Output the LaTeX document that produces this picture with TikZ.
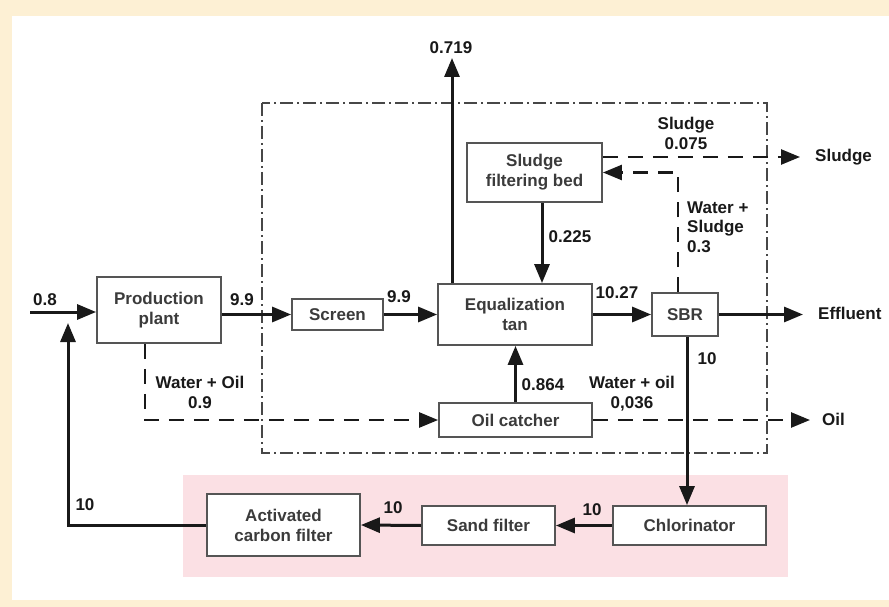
\documentclass[tikz,border=0pt]{standalone}
\usepackage{fontspec}
\setmainfont{Liberation Sans}
\usetikzlibrary{arrows.meta}
\definecolor{cream}{RGB}{253,240,212}
\definecolor{rose}{RGB}{251,224,228}
\definecolor{boxline}{RGB}{85,85,85}
\definecolor{ink}{RGB}{25,25,25}

\begin{document}
\begin{tikzpicture}[x=1pt,y=-1pt,>={Triangle[length=19pt,width=15pt]},
  unit/.style={draw=boxline,line width=1.8pt,fill=white,text=ink!85,align=center,inner sep=0pt,font=\bfseries\fontsize{17}{20}\selectfont},
  lab/.style={text=ink,inner sep=0pt,align=center,font=\bfseries\fontsize{17}{19.5}\selectfont},
  flow/.style={->,line width=3pt,ink},
  wet/.style={->,line width=2.5pt,ink,dash pattern=on 15pt off 10pt},
  frame/.style={line width=2pt,ink!80,dash pattern=on 13pt off 4pt on 2pt off 4pt}]
  \useasboundingbox (0,0) rectangle (889,607);
  \fill[cream] (0,0) rectangle (889,607); \fill[white] (12,16) rectangle (889,600);
  \fill[rose] (183,475) rectangle (788,577);
  \draw[frame] (262,103) rectangle (767,453);
  % units
  \node[unit,minimum width=124pt,minimum height=66pt] (plant) at (159,310) {Production\\plant};
  \node[unit,minimum width=91pt,minimum height=31pt] (screen) at (337.5,314.5) {Screen};
  \node[unit,minimum width=154pt,minimum height=61pt] (eq) at (515,314.5) {Equalization\\tan};
  \node[unit,minimum width=135pt,minimum height=59pt] (bed) at (534.5,172.5) {Sludge\\filtering bed};
  \node[unit,minimum width=66pt,minimum height=43pt] (sbr) at (685,314.5) {SBR};
  \node[unit,minimum width=153pt,minimum height=34pt] (oilc) at (515.5,420) {Oil catcher};
  \node[unit,minimum width=153pt,minimum height=39pt] (chlor) at (689.5,525.5) {Chlorinator};
  \node[unit,minimum width=133pt,minimum height=39pt] (sand) at (488.5,525.5) {Sand filter};
  \node[unit,minimum width=153pt,minimum height=62pt] (carbon) at (283.5,525) {Activated\\carbon filter};
  % free ends
  \coordinate (feed) at (30,312); \coordinate (vent) at (452,58); \coordinate (sl) at (800,157);
  \coordinate (eff) at (803,314.5); \coordinate (oil) at (810,420); \coordinate (ret) at (68,323); \coordinate (wo) at (145,420);
  % water line
  \draw[flow] (feed) -- (feed -| plant.west); \draw[flow] (plant.east |- screen.west) -- (screen.west);
  \draw[flow] (screen.east) -- (eq.west); \draw[flow] (eq.north -| vent) -- (vent);
  \draw[flow] ([xshift=7.5pt]bed.south) -- ([xshift=27pt]eq.north); \draw[flow] (eq.east) -- (sbr.west);
  \draw[flow] (sbr.east) -- (eff); \draw[flow] ([xshift=2pt]sbr.south) -- ([xshift=-2.5pt]chlor.north);
  \draw[flow] (oilc.north) -- (oilc.north |- eq.south);
  \draw[flow] (chlor.west) -- (sand.east); \draw[flow] (sand.west) -- (carbon.east);
  \draw[flow] (carbon.west) -| (ret);
  % side streams
  \draw[wet] (plant.south -| wo) -- (wo) -- (oilc.west); \draw[wet] (oilc.east) -- (oil);
  \draw[wet] (bed.east |- sl) -- (sl); \draw[wet] ([xshift=-7pt]sbr.north) |- (bed.east);
  % labels
  \node[lab] (l1) at (45,300) {0.8}; \node[lab] (l2) at (242,300) {9.9}; \node[lab] (l3) at (399,297) {9.9};
  \node[lab] (l4) at (451,48) {0.719}; \node[lab] (l5) at (686,133.5) {Sludge\\0.075};
  \node[lab] (l6) at (570,237) {0.225}; \node[lab,anchor=west,align=left] (l7) at (687,227) {Water +\\Sludge\\0.3};
  \node[lab] (l8) at (617,293) {10.27}; \node[lab,anchor=west] (l9) at (818,313) {Effluent};
  \node[lab,anchor=west] (l10) at (815,157) {Sludge}; \node[lab] (l11) at (707,359) {10};
  \node[lab] (l12) at (543,385) {0.864}; \node[lab] (l13) at (632,393.5) {Water + oil\\0,036};
  \node[lab,anchor=west] (l14) at (822,419) {Oil}; \node[lab] (l15) at (200,392.5) {Water + Oil\\0.9};
  \node[lab] (l16) at (85,505) {10}; \node[lab] (l17) at (393,508) {10}; \node[lab] (l18) at (592,510) {10};
\end{tikzpicture}
\end{document}
